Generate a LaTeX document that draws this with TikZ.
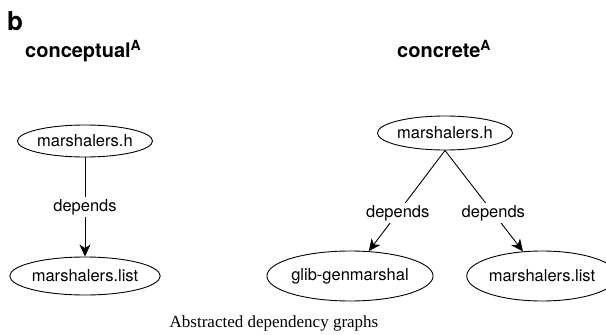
\documentclass[tikz,border=0pt]{standalone}
\usepackage{fontspec}
\setmainfont{TeX Gyre Heros}
\newfontfamily\captionserif{Liberation Serif}
\usetikzlibrary{shapes.geometric,arrows.meta}
\begin{document}
\begin{tikzpicture}[x=1pt,y=-1pt,
  file/.style={draw=black, line width=0.9pt, ellipse, inner sep=0pt,
    font=\fontsize{16.5}{18}\selectfont},
  dep/.style={-{Stealth[length=12pt,width=11pt,inset=3.5pt]}, line width=0.9pt},
  deplabel/.style={fill=white, inner sep=2pt, font=\fontsize{16.5}{18}\selectfont},
  heading/.style={font=\bfseries\fontsize{20}{22}\selectfont, inner sep=0pt, anchor=base west},
]
\useasboundingbox (0,0) rectangle (606,335);

% panel letter and column headings
\node[anchor=base west, inner sep=0pt, font=\bfseries\fontsize{26}{28}\selectfont] (panel) at (7,30) {b};
\node[heading] (hconc) at (25,57) {conceptual\raisebox{7pt}{\fontsize{14}{14}\selectfont A}};
\node[heading] (hcret) at (397,57) {concrete\raisebox{7pt}{\fontsize{14}{14}\selectfont A}};

% conceptual graph
\node[file, minimum width=128pt, minimum height=32pt] (cH) at (85,141) {marshalers.h};
\node[file, minimum width=140pt, minimum height=38pt] (cL) at (85,276) {marshalers.list};
\draw[dep] (cH) -- node[deplabel] {depends} (cL);

% concrete graph
\node[file, minimum width=125pt, minimum height=34pt] (rH) at (445,133) {marshalers.h};
\node[file, minimum width=132pt, minimum height=50pt] (rG) at (350,276) {glib-genmarshal};
\node[file, minimum width=126pt, minimum height=50pt] (rL) at (542,276) {marshalers.list};
\draw[dep] (rH.south) -- node[deplabel, pos=0.62] {depends} (rG);
\draw[dep] (rH.south) -- node[deplabel, pos=0.62] {depends} (rL);

% caption
\node[anchor=base, inner sep=0pt, font=\captionserif\fontsize{17}{19}\selectfont] (caption) at (274,327) {Abstracted dependency graphs};
\end{tikzpicture}
\end{document}
